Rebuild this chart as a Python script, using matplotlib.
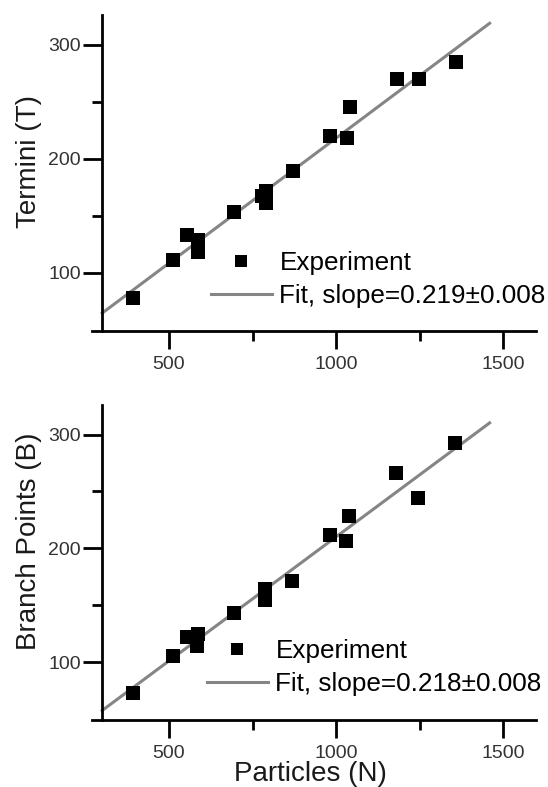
import matplotlib
matplotlib.use("Agg")
import matplotlib.pyplot as plt
from matplotlib.ticker import FixedLocator
from matplotlib.lines import Line2D
import numpy as np

plt.rcParams['font.family'] = ['Liberation Sans', 'DejaVu Sans']

# top panel: termini vs particles
n_top = [391, 511, 555, 588, 588, 694, 778, 790, 790, 870, 982, 1032, 1042, 1182, 1248, 1358]
termini = [78, 111, 133, 129, 118, 153, 167, 172, 161, 189, 219.5, 218, 245, 270, 270, 285]
fit_top = (0.219, -1.0)
label_top = "Fit, slope=0.219\u00b10.008"

# bottom panel: branch points vs particles
n_bot = [391, 511, 555, 588, 585, 694, 786, 786, 867, 982, 1030, 1040, 1179, 1245, 1356]
branch = [72.5, 105, 122, 125, 114.5, 143.5, 164.5, 154.5, 171, 211.5, 206, 228, 266, 244, 293]
fit_bot = (0.218, -8.0)
label_bot = "Fit, slope=0.218\u00b10.008"

fit_range = (300, 1460)
x_ticks = [500, 1000, 1500]
x_minor = [750, 1250]
y_ticks = [100, 200, 300]
y_minor = [150, 250]

W, H = 548, 787
fig = plt.figure(figsize=(W / 100, H / 100), dpi=100)

left = 92.2 / W
width = 444.2 / W
ax1 = fig.add_axes([left, (H - 331) / H, width, 316 / H])
ax2 = fig.add_axes([left, (H - 720) / H, width, 315 / H])


def draw(ax, xs, ys, fit, fit_label, ylabel, ylab_y, leg_xy):
    ax.plot(xs, ys, 's', color='black', ms=9.6, mew=0, zorder=3)
    fx = np.array(fit_range)
    ax.plot(fx, fit[0] * fx + fit[1], color='#858585', lw=2.2, zorder=2)

    ax.set_xlim(270, 1600)
    ax.set_ylim(49, 326)
    for s in ['top', 'right']:
        ax.spines[s].set_visible(False)
    ax.spines['left'].set_position(('data', 300))
    for s in ['left', 'bottom']:
        ax.spines[s].set_linewidth(2.0)

    ax.set_xticks(x_ticks)
    ax.set_yticks(y_ticks)
    ax.xaxis.set_minor_locator(FixedLocator(x_minor))
    ax.yaxis.set_minor_locator(FixedLocator(y_minor))
    ax.tick_params(axis='x', which='major', direction='out', length=13, width=2,
                   labelsize=14, pad=5, labelcolor='#333333')
    ax.tick_params(axis='y', which='major', direction='out', length=14, width=2,
                   labelsize=14, pad=1.5, labelcolor='#333333')
    ax.tick_params(which='minor', direction='out', length=7.5, width=2)

    ax.set_ylabel(ylabel, fontsize=20, color='#1a1a1a')
    ax.yaxis.set_label_coords(-0.112, ylab_y)

    handles = [Line2D([], [], ls='none', marker='s', color='black', ms=9.6, mew=0),
               Line2D([], [], color='#858585', lw=2.2)]
    ax.legend(handles, ['Experiment', fit_label], loc='upper left',
              bbox_to_anchor=leg_xy, frameon=False, fontsize=18.8,
              borderpad=0, borderaxespad=0, handlelength=2.34,
              handletextpad=0.29, labelspacing=0.37, markerscale=0.88)


draw(ax1, n_top, termini, fit_top, label_top, 'Termini (T)', 0.536, (0.2668, 0.254))
draw(ax2, n_bot, branch, fit_bot, label_bot, 'Branch Points (B)', 0.566, (0.2578, 0.258))

ax2.set_xlabel('Particles (N)', fontsize=20, color='#1a1a1a')
ax2.xaxis.set_label_coords(0.492, -0.13)

fig.savefig('out.png', dpi=100)
